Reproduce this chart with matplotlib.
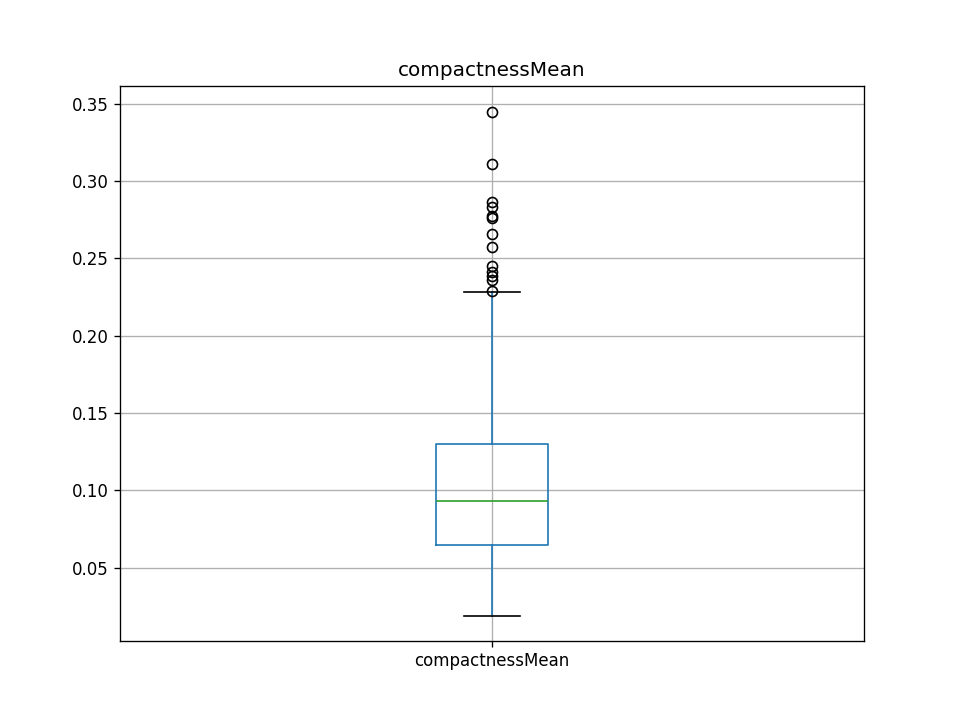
import matplotlib
matplotlib.use("Agg")
import matplotlib.pyplot as plt

label = "compactnessMean"
whislo, q1, med, q3, whishi = 0.0190, 0.0649, 0.0933, 0.1302, 0.2285
fliers = [0.3448, 0.3112, 0.2866, 0.2834, 0.2776, 0.2757, 0.2659, 0.2575,
          0.2453, 0.2414, 0.2388, 0.2362, 0.2291]

fig, ax = plt.subplots(figsize=(8, 6), dpi=120)
stats = [{"label": label, "whislo": whislo, "q1": q1, "med": med,
          "q3": q3, "whishi": whishi, "fliers": fliers}]
ax.bxp(stats,
       boxprops=dict(color="C0"),
       whiskerprops=dict(color="C0"),
       capprops=dict(color="black"),
       medianprops=dict(color="C2"),
       flierprops=dict(marker="o", markerfacecolor="none",
                       markeredgecolor="black"))
ax.set_title(label)
ax.grid(True)
ax.set_axisbelow(True)
fig.savefig("out.png")
